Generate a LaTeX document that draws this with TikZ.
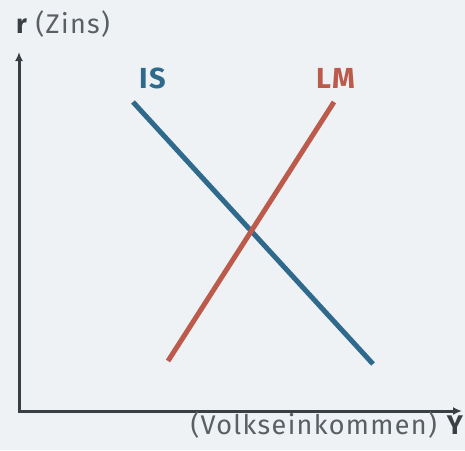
\documentclass[tikz,border=0pt]{standalone}
\usepackage{fontspec}
\setmainfont{Fira Sans}[LetterSpace=5]
\usetikzlibrary{arrows.meta}
\definecolor{bgc}{HTML}{EEF2F5}
\definecolor{axisc}{HTML}{3A3F44}
\definecolor{isc}{HTML}{2F6A8C}
\definecolor{lmc}{HTML}{BC5B4B}
\definecolor{txtc}{HTML}{5A5F64}
\tikzset{
  axis/.style={draw=axisc, line width=3pt, -{Latex[length=9pt,width=8pt]}},
  curve/.style={line width=5pt, line cap=butt},
  lbl/.style={inner sep=0pt, font=\fontsize{27}{29}\selectfont},
  clbl/.style={inner sep=0pt, font=\fontsize{29}{31}\selectfont\bfseries},
}
\begin{document}
\begin{tikzpicture}[x=1pt,y=-1pt]
\fill[bgc] (0,0) rectangle (465,450);
\useasboundingbox (0,0) rectangle (465,450);
\coordinate (O) at (19,411);
\coordinate (ytop) at (19,52);
\coordinate (xend) at (462,411);
\draw[axis] (O) -- (ytop);
\draw[axis] ([xshift=-1.5pt]O) -- (xend);
\coordinate (is1) at (133,102);
\coordinate (is2) at (373,364);
\coordinate (lm1) at (334,102);
\coordinate (lm2) at (168,361);
\draw[curve, draw=isc] (is1) -- (is2);
\draw[curve, draw=lmc] (lm1) -- (lm2);
\node[lbl, anchor=base west] (rlab) at (16,33) {\textbf{\color{axisc}r} \color{txtc}(Zins)};
\node[clbl, anchor=base west, text=isc] (islab) at (139,88) {IS};
\node[clbl, anchor=base west, text=lmc] (lmlab) at (316,88) {LM};
\node[lbl, anchor=base east] (ylab) at (463,434) {\color{txtc}(Volkseinkommen) \textbf{\color{axisc}Y}};
\end{tikzpicture}
\end{document}
